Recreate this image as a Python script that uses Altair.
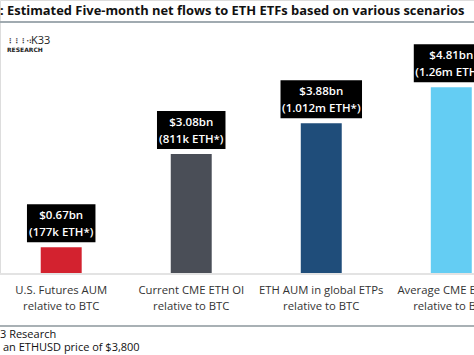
import altair as alt
import pandas as pd

categories = [
    "U.S. Futures AUM\nrelative to BTC",
    "Current CME ETH OI\nrelative to BTC",
    "ETH AUM in global ETPs\nrelative to BTC",
    "Average CME ETH OI\nrelative to BTC",
]
flows_bn = [0.67, 3.08, 3.88, 4.81]
usd_labels = ["$0.67bn", "$3.08bn", "$3.88bn", "$4.81bn"]
eth_labels = ["(177k ETH*)", "(811k ETH*)", "(1.012m ETH*)", "(1.26m ETH*)"]
colors = ["#d3222f", "#4a4e57", "#1f4d7a", "#64cdf3"]

title_text = ": Estimated Five-month net flows to ETH ETFs based on various scenarios"
footer1 = "3 Research"
footer2 = "an ETHUSD price of $3,800"

df = pd.DataFrame({
    "cat": categories,
    "value": flows_bn,
    "usd": usd_labels,
    "eth": eth_labels,
    "color": colors,
})

FONT = "Open Sans"
W, H = 474, 273

xenc = alt.X("cat:N", sort=categories, axis=None,
             scale=alt.Scale(range=[-3.8, 516.3], paddingInner=0.685, paddingOuter=0.3425))
yenc = alt.Y("value:Q", axis=None, scale=alt.Scale(domain=[0, 273 / 38.6], nice=False, zero=True))

base = alt.Chart(df)

bars = base.mark_bar().encode(
    x=xenc, y=yenc,
    color=alt.Color("color:N", scale=None),
)

boxes = base.transform_calculate(
    boxw="6.5 * length(datum.eth) - 3"
).mark_bar(color="#000000", yOffset=-5, y2Offset=-43).encode(
    x=xenc, y=yenc, y2="value:Q",
    size=alt.Size("boxw:Q", scale=None),
)

usd_text = base.mark_text(font=FONT, fontSize=11.5, fontWeight=600, color="white",
                          baseline="middle", dy=-31).encode(
    x=xenc, y=yenc, text="usd:N")
eth_text = base.mark_text(font=FONT, fontSize=11.5, fontWeight=600, color="white",
                          baseline="middle", dy=-14).encode(
    x=xenc, y=yenc, text="eth:N")

cat_text = base.mark_text(font=FONT, fontSize=11.3, color="#333333", baseline="middle",
                          lineBreak="\n", lineHeight=16).encode(
    x=xenc, y=alt.value(291), text="cat:N")

baseline = alt.Chart(df).mark_rule(color="#e3e3e3", strokeWidth=1.5).encode(
    x=alt.value(0), x2=alt.value(W), y=alt.value(274))
sep_top = alt.Chart(df).mark_rule(color="#9aa5ab", strokeWidth=1).encode(
    x=alt.value(0), x2=alt.value(W), y=alt.value(22))
sep_bot = alt.Chart(df).mark_rule(color="#a3abb0", strokeWidth=1).encode(
    x=alt.value(0), x2=alt.value(W), y=alt.value(326))

title = alt.Chart(pd.DataFrame({"t": [title_text]})).mark_text(
    font=FONT, fontSize=12.9, fontWeight="bold", color="#111111", align="left", baseline="middle"
).encode(x=alt.value(0), y=alt.value(11), text="t:N")

logo_icon = alt.Chart(pd.DataFrame({"t": ["⋮⋮⋮·:"]})).mark_text(
    font="DejaVu Sans", fontSize=6.5, fontWeight="bold", color="#222222", align="left", baseline="middle"
).encode(x=alt.value(7), y=alt.value(41), text="t:N")
logo1 = alt.Chart(pd.DataFrame({"t": ["K33"]})).mark_text(
    font=FONT, fontSize=11, color="#222222", align="left", baseline="middle"
).encode(x=alt.value(31), y=alt.value(41), text="t:N")
logo2 = alt.Chart(pd.DataFrame({"t": ["RESEARCH"]})).mark_text(
    font="DejaVu Sans", fontSize=6, fontWeight="bold", color="#222222", align="left", baseline="middle"
).encode(x=alt.value(7), y=alt.value(50), text="t:N")

f1 = alt.Chart(pd.DataFrame({"t": [footer1]})).mark_text(
    font=FONT, fontSize=11, color="#111111", align="left", baseline="middle"
).encode(x=alt.value(0), y=alt.value(334.5), text="t:N")
f2 = alt.Chart(pd.DataFrame({"t": [footer2]})).mark_text(
    font=FONT, fontSize=11, color="#111111", align="left", baseline="middle"
).encode(x=alt.value(3), y=alt.value(348), text="t:N")

chart = alt.layer(
    baseline, sep_top, sep_bot, bars, boxes, usd_text, eth_text, cat_text,
    title, logo_icon, logo1, logo2, f1, f2
).properties(
    width=W, height=H,
    autosize=alt.AutoSizeParams(type="none"),
    padding={"left": 0, "top": 0, "right": 0, "bottom": 82},
).configure_view(stroke=None).configure(background="white")

chart.save("out.html", embed_options={"renderer": "svg", "actions": False})
